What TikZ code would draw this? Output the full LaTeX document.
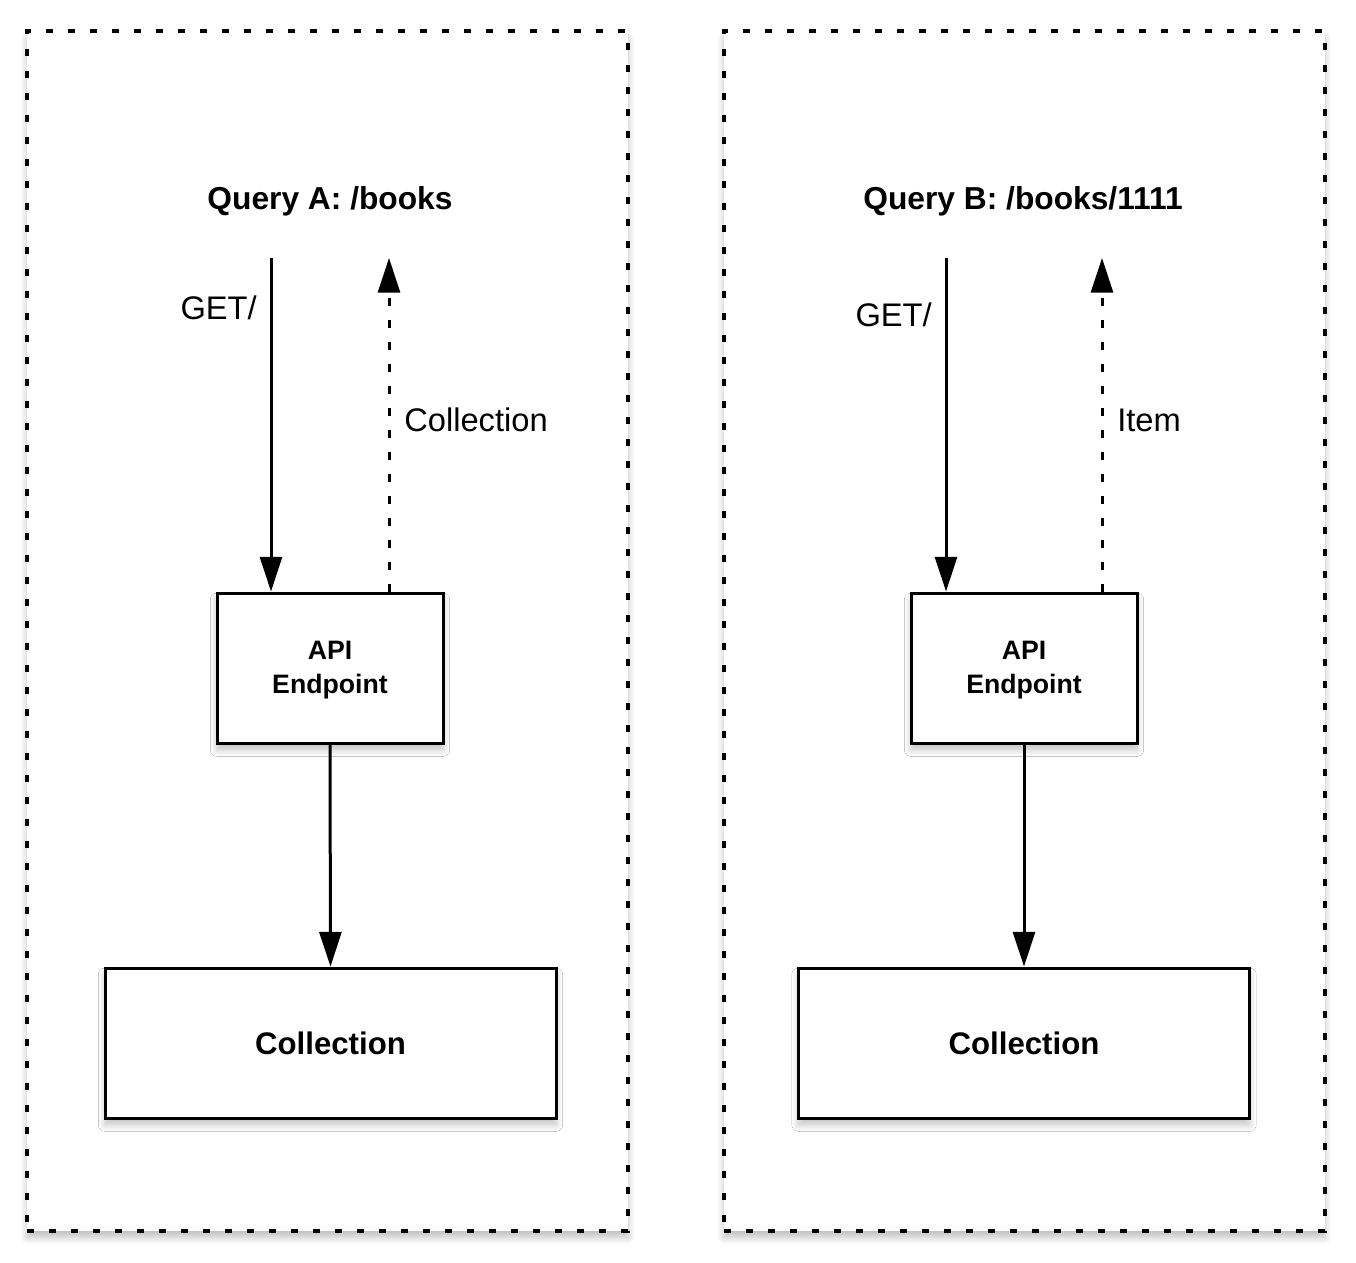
\documentclass[tikz,border=0pt]{standalone}
\usepackage{fontspec}
\setmainfont{Liberation Sans}
\usetikzlibrary{arrows.meta,shadows.blur}
\begin{document}
\begin{tikzpicture}[x=0.75pt,y=-0.75pt,
  shad/.style={blur shadow={shadow xshift=0pt,shadow yshift=-5pt,shadow blur radius=5pt,shadow blur steps=12,shadow opacity=25}},
  frame/.style={draw=black,line width=2.4pt,dash pattern=on 5.5pt off 11pt,fill=white,shad,minimum width=450.75pt,minimum height=900pt,inner sep=0pt},
  apibox/.style={draw=black,line width=2.25pt,fill=white,shad,minimum width=169.5pt,minimum height=112.5pt,inner sep=0pt,align=center,font=\fontsize{20}{25.5}\selectfont\bfseries},
  colbox/.style={draw=black,line width=2.25pt,fill=white,shad,minimum width=338.25pt,minimum height=112.5pt,inner sep=0pt,font=\fontsize{23.4}{28}\selectfont\bfseries},
  title/.style={font=\fontsize{23.8}{28}\selectfont\bfseries,inner sep=0pt},
  lbl/.style={font=\fontsize{24.5}{28}\selectfont,inner sep=0pt},
  txt/.style={align=center,font=\fontsize{20}{25.5}\selectfont\bfseries,inner sep=0pt},
  arr/.style={line width=2.25pt,-{Triangle[length=26pt,width=16.5pt]}},
  darr/.style={arr,dash pattern=on 5.5pt off 11pt}]
\useasboundingbox (0,0) rectangle (1356,1263);
% frames
\node[frame] (frA) at (327.5,631) {};
\node[frame] (frB) at (1024.5,631) {};
% titles
\node[title] (tA) at (330,201) {Query A: /books};
\node[title] (tB) at (1023,201) {Query B: /books/1111};
% boxes
\node[apibox] (apiA) at (330,668) {};
\node[apibox] (apiB) at (1024,668) {};
\node[txt] (apiAt) at (330,670) {API\\Endpoint};
\node[txt] (apiBt) at (1024,670) {API\\Endpoint};
\node[colbox] (colA) at (330.5,1043) {Collection};
\node[colbox] (colB) at (1024,1043) {Collection};
% coordinates
\coordinate (gA) at (271,258);
\coordinate (rA) at (389,258);
\coordinate (gB) at (946,258);
\coordinate (rB) at (1102,258);
% arrows left
\draw[arr] (gA) -- (gA |- apiA.north);
\draw[darr] (rA |- apiA.north) -- (rA);
\draw[arr] (apiA.south) -- (colA.north);
% arrows right
\draw[arr] (gB) -- (gB |- apiB.north);
\draw[darr] (rB |- apiB.north) -- (rB);
\draw[arr] (apiB.south) -- (colB.north);
% labels
\node[lbl,anchor=east] (lgA) at (257,308) {GET/};
\node[lbl,anchor=west] (lcA) at (404,420) {Collection};
\node[lbl,anchor=east] (lgB) at (932,315) {GET/};
\node[lbl,anchor=west] (liB) at (1117,420) {Item};
\end{tikzpicture}
\end{document}
